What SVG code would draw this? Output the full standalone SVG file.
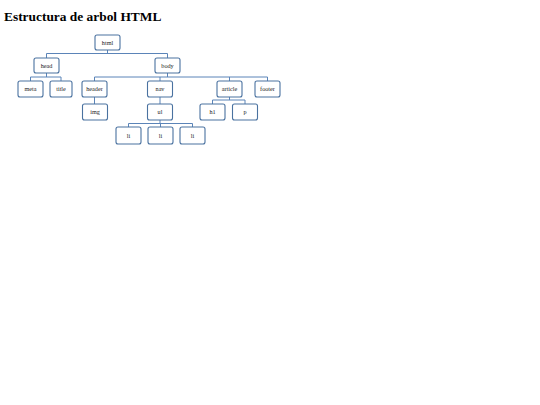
<svg xmlns="http://www.w3.org/2000/svg" width="540" height="405" viewBox="0 0 540 405">
<style>
.n rect{fill:#fff;stroke:#4a72a0;stroke-width:1.1}
.n text{font-family:"Liberation Serif",serif;font-size:6.2px;fill:#222;text-anchor:middle}
#connectors path{fill:none;stroke:#5b84b8;stroke-width:1}
.t{font-family:"Liberation Serif",serif;font-size:13.4px;font-weight:bold;fill:#000}
</style>
<rect width="540" height="405" fill="#fff"/>
<text class="t" x="4" y="21">Estructura de arbol HTML</text>
<g id="connectors">
<path d="M107.5 50V53.5M46.5 53.5H167.5M46.5 53.5V58M167.5 53.5V58"/>
<path d="M46.5 73V77M30.5 77H61M30.5 77V81M61 77V81"/>
<path d="M167.5 73V77M94.5 77H267.5M94.5 77V81M160 77V81M229.5 77V81M267.5 77V81"/>
<path d="M94.5 97V104"/>
<path d="M160 97V104"/>
<path d="M229.5 97V100M212.5 100H245M212.5 100V104M245 100V104"/>
<path d="M160 120V123.5M128.5 123.5H192.5M128.5 123.5V127M160.5 123.5V127M192.5 123.5V127"/>
</g>
<g id="html" class="n"><rect x="95" y="35" width="25" height="15" rx="2"/><text x="107.5" y="44.5">html</text></g>
<g id="head" class="n"><rect x="34" y="58" width="25" height="15" rx="2"/><text x="46.5" y="67.5">head</text></g>
<g id="body" class="n"><rect x="155" y="58" width="25" height="15" rx="2"/><text x="167.5" y="67.5">body</text></g>
<g id="meta" class="n"><rect x="18" y="81" width="25" height="16" rx="2"/><text x="30.5" y="91">meta</text></g>
<g id="title" class="n"><rect x="50" y="81" width="22" height="16" rx="2"/><text x="61" y="91">title</text></g>
<g id="header" class="n"><rect x="82" y="81" width="25" height="16" rx="2"/><text x="94.5" y="91">header</text></g>
<g id="nav" class="n"><rect x="147.5" y="81" width="25" height="16" rx="2"/><text x="160" y="91">nav</text></g>
<g id="article" class="n"><rect x="217" y="81" width="25" height="16" rx="2"/><text x="229.5" y="91">article</text></g>
<g id="footer" class="n"><rect x="255" y="81" width="25" height="16" rx="2"/><text x="267.5" y="91">footer</text></g>
<g id="img" class="n"><rect x="82.5" y="104" width="25" height="16" rx="2"/><text x="95" y="114">img</text></g>
<g id="ul" class="n"><rect x="147.5" y="104" width="25" height="16" rx="2"/><text x="160" y="114">ul</text></g>
<g id="h1" class="n"><rect x="200" y="104" width="25" height="16" rx="2"/><text x="212.5" y="114">h1</text></g>
<g id="p" class="n"><rect x="232.5" y="104" width="25" height="16" rx="2"/><text x="245" y="114">p</text></g>
<g id="li1" class="n"><rect x="116" y="127" width="25" height="17" rx="2"/><text x="128.5" y="137.5">li</text></g>
<g id="li2" class="n"><rect x="148" y="127" width="25" height="17" rx="2"/><text x="160.5" y="137.5">li</text></g>
<g id="li3" class="n"><rect x="180" y="127" width="25" height="17" rx="2"/><text x="192.5" y="137.5">li</text></g>
</svg>
